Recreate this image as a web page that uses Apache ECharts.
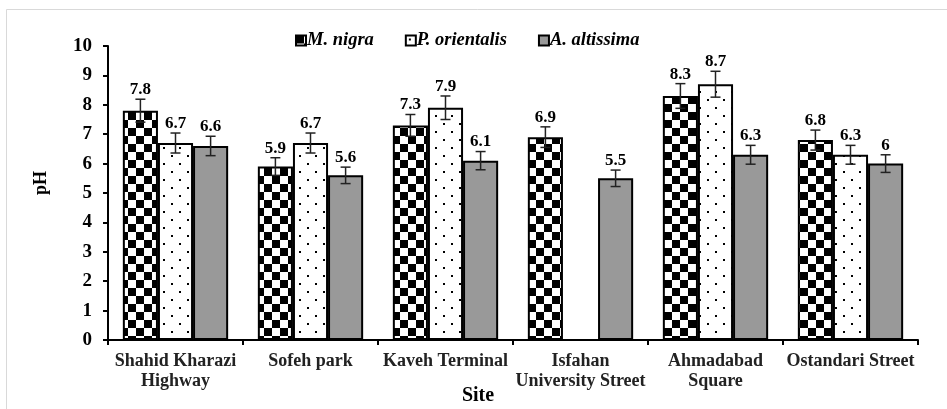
<!DOCTYPE html>
<html>
<head>
<meta charset="utf-8">
<script src="https://cdn.jsdelivr.net/npm/echarts@6/dist/echarts.min.js"></script>
<style>
  html, body { margin: 0; padding: 0; background: #fff; }
  #chart { width: 947px; height: 409px; }
</style>
</head>
<body>
<div id="chart"></div>
<script>
// Sites along the x axis (line breaks where the labels wrap)
const sites = ['Shahid Kharazi\nHighway', 'Sofeh park', 'Kaveh Terminal',
               'Isfahan\nUniversity Street', 'Ahmadabad\nSquare', 'Ostandari Street'];

// Species names
const speciesNames = ['M. nigra', 'P. orientalis', 'A. altissima'];

// Mean pH per site
const mNigra = [7.8, 5.9, 7.3, 6.9, 8.3, 6.8];
const pOrientalis = [6.7, 6.7, 7.9, null, 8.7, 6.3];
const aAltissima = [6.6, 5.6, 6.1, 5.5, 6.3, 6.0];

// Error bar half-lengths
const mNigraErr = [0.39, 0.30, 0.37, 0.35, 0.42, 0.34];
const pOrientalisErr = [0.34, 0.34, 0.40, null, 0.44, 0.32];
const aAltissimaErr = [0.33, 0.28, 0.31, 0.28, 0.32, 0.30];

// y-axis ticks
const yTicks = [0, 1, 2, 3, 4, 5, 6, 7, 8, 9, 10];

const values = [mNigra, pOrientalis, aAltissima];
const errors = [mNigraErr, pOrientalisErr, aAltissimaErr];

const SERIF = '"Liberation Serif", "Times New Roman", serif';
const CAT_GAP = 0.22;

// Fill patterns
function checkerPattern() {
  const c = document.createElement('canvas');
  c.width = 16; c.height = 16;
  const g = c.getContext('2d');
  g.fillStyle = '#fff'; g.fillRect(0, 0, 16, 16);
  g.fillStyle = '#000';
  g.fillRect(0, 0, 8, 8);
  g.fillRect(8, 8, 8, 8);
  return { image: c, repeat: 'repeat' };
}
function dotPattern() {
  const c = document.createElement('canvas');
  c.width = 16; c.height = 16;
  const g = c.getContext('2d');
  g.fillStyle = '#fff'; g.fillRect(0, 0, 16, 16);
  g.fillStyle = '#000';
  g.fillRect(3, 3, 2, 2);
  g.fillRect(11, 11, 2, 2);
  return { image: c, repeat: 'repeat' };
}
const fills = [checkerPattern(), dotPattern(), '#999999'];

const barSeries = speciesNames.map((name, i) => ({
  name: name,
  type: 'bar',
  data: values[i],
  barGap: '0%',
  barCategoryGap: (CAT_GAP * 100) + '%',
  itemStyle: { color: fills[i], borderColor: '#000', borderWidth: 2 },
  emphasis: { disabled: true },
  z: 2
}));

// Error bars with the value written above each one
const errSeries = speciesNames.map((name, i) => ({
  type: 'custom',
  name: name + ' error',
  data: values[i].map((v, k) => [k, v, errors[i][k]]),
  z: 5,
  silent: true,
  renderItem: function (params, api) {
    const v = api.value(1);
    if (v === null || isNaN(v)) return null;
    const cat = api.value(0);
    const e = api.value(2);
    const band = api.size([1, 0])[0];
    const bw = band * (1 - CAT_GAP) / 3;
    const center = api.coord([cat, v]);
    const x = center[0] + (i - 1) * bw;
    const yTop = api.coord([cat, v + e])[1];
    const yBot = api.coord([cat, v - e])[1];
    const cap = 5;
    const st = { stroke: '#222', lineWidth: 1.5 };
    return {
      type: 'group',
      children: [
        { type: 'line', shape: { x1: x, y1: yTop, x2: x, y2: yBot }, style: st },
        { type: 'line', shape: { x1: x - cap, y1: yTop, x2: x + cap, y2: yTop }, style: st },
        { type: 'line', shape: { x1: x - cap, y1: yBot, x2: x + cap, y2: yBot }, style: st },
        {
          type: 'text',
          style: {
            x: x, y: yTop - 1,
            text: String(v),
            textAlign: 'center', textVerticalAlign: 'bottom',
            font: 'bold 17px ' + SERIF,
            fill: '#000'
          }
        }
      ]
    };
  }
}));

const chart = echarts.init(document.getElementById('chart'), null, { renderer: 'canvas' });
chart.setOption({
  animation: false,
  backgroundColor: '#fff',
  graphic: [{
    type: 'rect',
    shape: { x: 6.5, y: 9.5, width: 980, height: 440 },
    style: { fill: 'none', stroke: '#d9d9d9', lineWidth: 1 },
    silent: true, z: -1
  }],
  legend: {
    data: speciesNames,
    top: 26,
    left: 290,
    itemWidth: 10,
    itemHeight: 10,
    itemGap: 31,
    icon: 'rect',
    itemStyle: { borderColor: '#000', borderWidth: 2 },
    textStyle: { fontFamily: SERIF, fontWeight: 'bold', fontStyle: 'italic', fontSize: 18.5, color: '#000', padding: [0, 0, 0, -4] }
  },
  grid: { left: 108, right: 29, top: 46, bottom: 69, containLabel: false, outerBoundsMode: 'none' },
  xAxis: {
    type: 'category',
    data: sites,
    name: 'Site',
    nameLocation: 'middle',
    nameGap: 46,
    nameMoveOverlap: false,
    nameTextStyle: { fontFamily: SERIF, fontWeight: 'bold', fontSize: 20, color: '#000', padding: [0, 70, 0, 0] },
    axisLine: { lineStyle: { color: '#000', width: 2 } },
    axisTick: { show: true, length: 5, lineStyle: { color: '#000', width: 2 } },
    axisLabel: { fontFamily: SERIF, fontWeight: 'bold', fontSize: 18, color: '#222', lineHeight: 20, margin: 11, interval: 0 }
  },
  yAxis: {
    type: 'value',
    min: yTicks[0],
    max: yTicks[yTicks.length - 1],
    interval: 1,
    name: 'pH',
    nameLocation: 'middle',
    nameGap: 58,
    nameRotate: 90,
    nameMoveOverlap: false,
    nameTextStyle: { fontFamily: SERIF, fontWeight: 'bold', fontSize: 18, color: '#000', padding: [0, 0, 0, 20] },
    splitLine: { show: false },
    axisLine: { show: true, lineStyle: { color: '#000', width: 2 } },
    axisTick: { show: true, length: 5, lineStyle: { color: '#000', width: 2 } },
    axisLabel: { fontFamily: SERIF, fontWeight: 'bold', fontSize: 19, color: '#000', margin: 16 }
  },
  series: barSeries.concat(errSeries)
});
</script>
</body>
</html>
